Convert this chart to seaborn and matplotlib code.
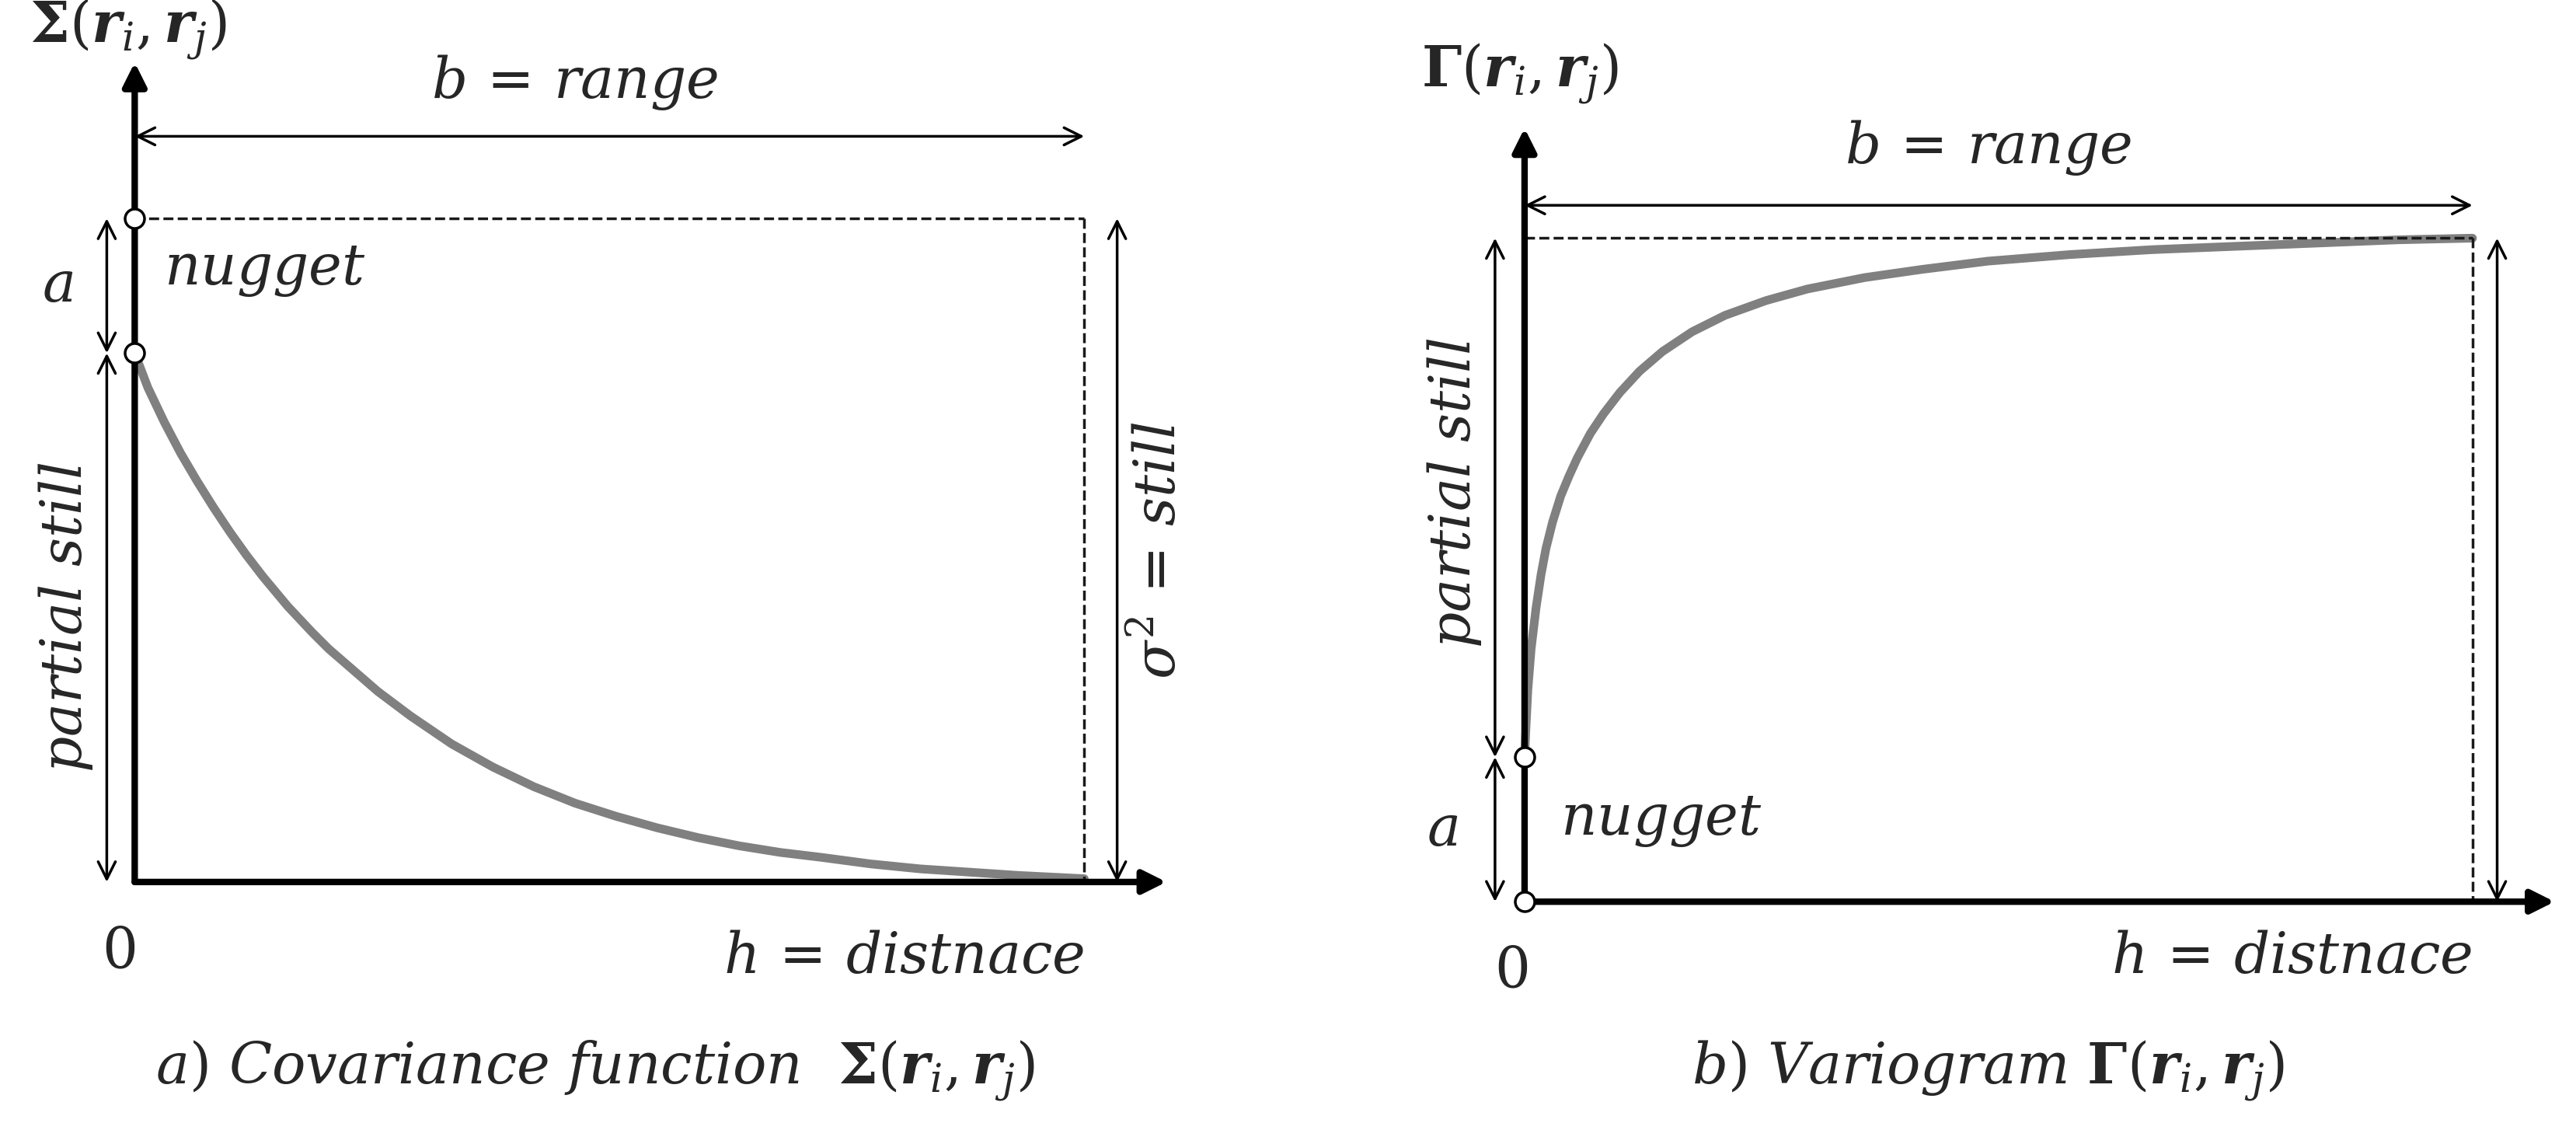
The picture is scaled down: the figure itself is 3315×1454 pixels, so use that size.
import matplotlib
matplotlib.use("Agg")
import matplotlib.pyplot as plt
import seaborn as sns
import pandas as pd

sns.set_theme(style="white")
plt.rcParams['font.family'] = ['DejaVu Serif']
plt.rcParams['mathtext.fontset'] = 'dejavuserif'

# curve samples (display pixel coords)
cov_x = [82, 90, 100, 110, 120, 130, 140, 150, 160, 175, 190, 200, 215, 230, 250, 275, 300, 325,
         350, 375, 400, 425, 450, 475, 500, 530, 560, 590, 620, 660]
cov_y = [215, 236, 257, 276, 293, 309, 324, 338, 351, 369, 385, 395, 408, 421, 436, 453, 467, 479,
         489, 497, 504, 510, 515, 519, 522, 526, 529, 531, 533, 535]
var_x = [928, 929, 930, 932, 935, 938, 941, 945, 950, 955, 960, 968, 976, 986, 998, 1012, 1030,
         1050, 1075, 1100, 1135, 1170, 1210, 1260, 1310, 1360, 1410, 1460, 1505]
var_y = [461, 440, 420, 395, 370, 350, 334, 318, 302, 290, 279, 264, 252, 239, 226, 214, 202,
         192, 183, 176, 169, 164, 159, 155, 152, 150, 148, 146, 145]

fig = plt.figure(figsize=(33.15, 14.54), dpi=100)
ax = fig.add_axes([0, 0, 1, 1])
ax.set_xlim(0, 1568); ax.set_ylim(688, 0)

df1 = pd.DataFrame({'x': cov_x, 'y': cov_y})
df2 = pd.DataFrame({'x': var_x, 'y': var_y})
sns.lineplot(data=df1, x='x', y='y', ax=ax, color='#808080', lw=8, sort=False)
sns.lineplot(data=df2, x='x', y='y', ax=ax, color='#808080', lw=8, sort=False)
ax.set_xlabel(''); ax.set_ylabel(''); ax.axis('off')

def arrow(x0, y0, x1, y1):
    ax.annotate('', xy=(x1, y1), xytext=(x0, y0),
                arrowprops=dict(arrowstyle='-|>', lw=6, color='black', mutation_scale=45,
                                shrinkA=0, shrinkB=0))

def darrow(x0, y0, x1, y1):
    ax.annotate('', xy=(x1, y1), xytext=(x0, y0),
                arrowprops=dict(arrowstyle='<->', lw=2.5, color='black', mutation_scale=40,
                                shrinkA=0, shrinkB=0))

fs = 52
# ---- left panel
arrow(82, 537, 82, 38); arrow(82, 537, 710, 537)
ax.plot([82, 660], [133, 133], 'k--', lw=2.5)
ax.plot([660, 660], [133, 537], 'k--', lw=2.5)
darrow(82, 83, 660, 83)
darrow(65, 133, 65, 215)
darrow(65, 215, 65, 537)
darrow(680, 133, 680, 537)
for y in (133, 215):
    ax.plot(82, y, 'o', ms=18, mfc='white', mec='black', mew=2.5, zorder=5)
ax.text(18, 18, r'$\mathbf{\Sigma}(\boldsymbol{r}_i,\boldsymbol{r}_j)$', fontsize=fs, va='center')
ax.text(350, 68, r'$b\,=\,range$', fontsize=fs, ha='center', va='bottom')
ax.text(35, 174, r'$a$', fontsize=fs, ha='center', va='center')
ax.text(100, 165, r'$nugget$', fontsize=fs, ha='left', va='center')
ax.text(40, 376, r'$partial\ still$', fontsize=fs, ha='center', va='center', rotation=90)
ax.text(706, 335, r'$\sigma^2\,=\,still$', fontsize=fs, ha='center', va='center', rotation=90)
ax.text(72, 580, r'$0$', fontsize=fs, ha='center', va='center')
ax.text(660, 583, r'$h\,=\,distnace$', fontsize=fs, ha='right', va='center')
ax.text(362, 652, r'$a)\ Covariance\ function\ \ \mathbf{\Sigma}(\boldsymbol{r}_i,\boldsymbol{r}_j)$',
        fontsize=fs, ha='center', va='center')

# ---- right panel
arrow(928, 549, 928, 78); arrow(928, 549, 1555, 549)
ax.plot([928, 1505], [145, 145], 'k--', lw=2.5)
ax.plot([1505, 1505], [145, 549], 'k--', lw=2.5)
darrow(928, 125, 1505, 125)
darrow(910, 145, 910, 461)
darrow(910, 461, 910, 549)
darrow(1520, 145, 1520, 549)
for y in (461, 549):
    ax.plot(928, y, 'o', ms=18, mfc='white', mec='black', mew=2.5, zorder=5)
ax.text(865, 45, r'$\mathbf{\Gamma}(\boldsymbol{r}_i,\boldsymbol{r}_j)$', fontsize=fs, va='center')
ax.text(1210, 108, r'$b\,=\,range$', fontsize=fs, ha='center', va='bottom')
ax.text(878, 505, r'$a$', fontsize=fs, ha='center', va='center')
ax.text(950, 500, r'$nugget$', fontsize=fs, ha='left', va='center')
ax.text(885, 300, r'$partial\ still$', fontsize=fs, ha='center', va='center', rotation=90)
ax.text(920, 592, r'$0$', fontsize=fs, ha='center', va='center')
ax.text(1505, 583, r'$h\,=\,distnace$', fontsize=fs, ha='right', va='center')
ax.text(1210, 652, r'$b)\ Variogram\ \mathbf{\Gamma}(\boldsymbol{r}_i,\boldsymbol{r}_j)$',
        fontsize=fs, ha='center', va='center')

fig.savefig('out.png', dpi=100, facecolor='white')
